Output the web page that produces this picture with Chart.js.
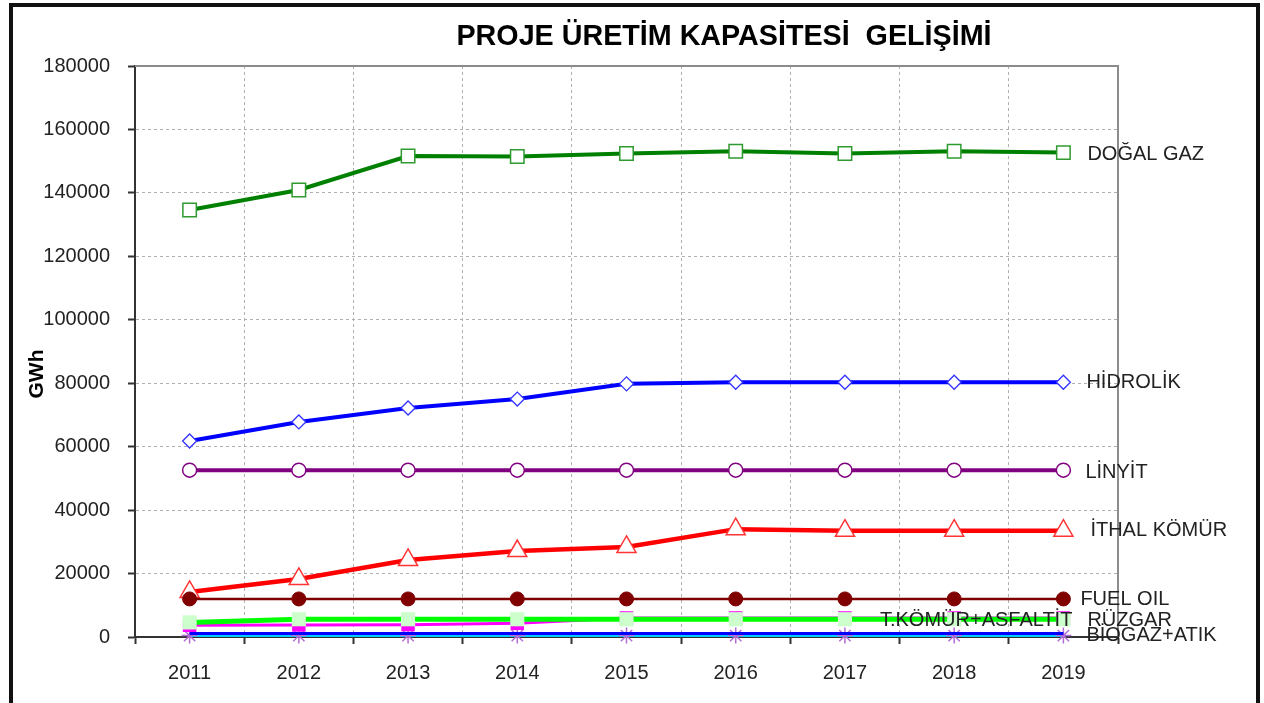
<!DOCTYPE html>
<html>
<head>
<meta charset="utf-8">
<script src="https://cdn.jsdelivr.net/npm/chart.js@4"></script>
<style>
  html, body { margin: 0; padding: 0; background: #fff; overflow: hidden; }
  #wrap { position: relative; width: 1264px; height: 703px; }
  #frame { position: absolute; left: 9px; top: 3px; width: 1243px; height: 800px; border: 4px solid #111; pointer-events: none; }
  canvas { position: absolute; left: 0; top: 0; }
</style>
</head>
<body>
<div id="wrap">
  <canvas id="c" width="1264" height="703"></canvas>
  <div id="frame"></div>
</div>
<script>
// ---- data ----
const chartTitle = 'PROJE ÜRETİM KAPASİTESİ  GELİŞİMİ';
const yAxisTitle = 'GWh';
const years = ['2011', '2012', '2013', '2014', '2015', '2016', '2017', '2018', '2019'];
const yMin = 0;
const yMax = 180000;
const yStep = 20000;

const dogalGaz    = [134600, 140900, 151600, 151500, 152400, 153100, 152400, 153100, 152700];
const hidrolik    = [61800, 67800, 72200, 75000, 79800, 80300, 80300, 80300, 80300];
const linyit      = [52600, 52600, 52600, 52600, 52600, 52600, 52600, 52600, 52600];
const ithalKomur  = [14200, 18300, 24300, 27100, 28400, 34000, 33500, 33500, 33500];
const fuelOil     = [12000, 12000, 12000, 12000, 12000, 12000, 12000, 12000, 12000];
const ruzgar      = [4600, 5600, 5600, 5600, 5600, 5600, 5600, 5600, 5600];
const tKomurAsf   = [3700, 3800, 3900, 4300, 6000, 6000, 6000, 6000, 6000];
const biogazAtik  = [1100, 1100, 1100, 1100, 1100, 1100, 1100, 1100, 1100];
const altSeri     = [450, 450, 450, 450, 450, 450, 450, 450, 450];

const FONT = "'Liberation Sans', Arial, sans-serif";

function ds(label, data, color, width, pt, lab) {
  return {
    label: label, data: data, borderColor: color, backgroundColor: color,
    borderWidth: width, tension: 0, clip: false,
    pointStyle: pt.style, pointRadius: pt.r, pointHoverRadius: pt.r,
    pointBackgroundColor: pt.fill, pointBorderColor: pt.stroke, pointBorderWidth: pt.bw,
    endLabel: lab
  };
}

const datasets = [
  ds('DOĞAL GAZ', dogalGaz, '#008000', 4, {style:'rect', r:9.5, fill:'#ffffff', stroke:'#2f9a2f', bw:1.5}, {dx:24, dy:2, align:'left'}),
  ds('HİDROLİK', hidrolik, '#0000ff', 4, {style:'rectRot', r:7, fill:'#ffffff', stroke:'#3333ff', bw:1.3}, {dx:23, dy:0, align:'left'}),
  ds('LİNYİT', linyit, '#800080', 4, {style:'circle', r:7, fill:'#ffffff', stroke:'#800080', bw:1.5}, {dx:22, dy:2, align:'left'}),
  ds('FUEL OIL', fuelOil, '#800000', 2.5, {style:'circle', r:7, fill:'#800000', stroke:'#800000', bw:1}, {dx:17, dy:1, align:'left'}),
  ds('İTHAL KÖMÜR', ithalKomur, '#ff0000', 4.5, {style:'triangle', r:11, fill:'#ffffff', stroke:'#ff3333', bw:1.5}, {dx:27, dy:0, align:'left'}),
  ds('RÜZGAR', ruzgar, '#00ff00', 5, {style:'rect', r:10, fill:'#ccffcc', stroke:'#ccffcc', bw:0}, {dx:24, dy:1.5, align:'left'}),
  ds('T.KÖMÜR+ASFALTİT', tKomurAsf, '#ff00ff', 3, {style:'rect', r:9.5, fill:'#ff00ff', stroke:'#ff00ff', bw:0}, {dx:9, dy:2.5, align:'right'}),
  ds('BİOGAZ+ATIK', biogazAtik, '#0000ff', 3, {style:'circle', r:0, fill:'#0000ff', stroke:'#0000ff', bw:0}, {dx:23, dy:2, align:'left'}),
  ds('', altSeri, '#00ccff', 3, {style:'star', r:8, fill:'#b36bd6', stroke:'#b36bd6', bw:1.5}, null)
];

const overlay = {
  id: 'overlay',
  beforeDatasetsDraw(chart) {
    const a = chart.chartArea, ctx = chart.ctx;
    ctx.save();
    ctx.strokeStyle = '#8c8c8c';
    ctx.lineWidth = 2;
    ctx.beginPath();
    ctx.moveTo(a.left, a.top);
    ctx.lineTo(a.right, a.top);
    ctx.lineTo(a.right, a.bottom);
    ctx.stroke();
    ctx.restore();
  },
  afterDatasetsDraw(chart) {
    const ctx = chart.ctx;
    ctx.save();
    ctx.font = '20px ' + FONT;
    ctx.fillStyle = '#222';
    ctx.textBaseline = 'middle';
    chart.data.datasets.forEach((d, i) => {
      if (!d.endLabel || !d.label) return;
      const meta = chart.getDatasetMeta(i);
      const last = meta.data[meta.data.length - 1];
      ctx.textAlign = d.endLabel.align;
      ctx.fillText(d.label, last.x + d.endLabel.dx, last.y + d.endLabel.dy);
    });
    ctx.restore();
  },
  afterDraw(chart) {
    const ctx = chart.ctx;
    ctx.save();
    ctx.fillStyle = '#000';
    ctx.font = 'bold 28.7px ' + FONT;
    ctx.textAlign = 'center';
    ctx.textBaseline = 'alphabetic';
    ctx.fillText(chartTitle, 724, 45);
    ctx.translate(43, 374);
    ctx.rotate(-Math.PI / 2);
    ctx.font = 'bold 21px ' + FONT;
    ctx.fillText(yAxisTitle, 0, 0);
    ctx.restore();
  }
};

new Chart(document.getElementById('c'), {
  type: 'line',
  data: { labels: years, datasets: datasets },
  options: {
    responsive: false,
    animation: false,
    devicePixelRatio: 1,
    layout: { padding: { left: 0, top: 66, right: 146, bottom: 0 } },
    plugins: { legend: { display: false }, title: { display: false }, tooltip: { enabled: false } },
    scales: {
      x: {
        offset: true,
        grid: { offset: true, color: '#b0b0b0', lineWidth: 1, tickLength: 7, tickColor: '#333', tickWidth: 2, tickBorderDash: [] },
        border: { display: true, color: '#333', width: 2, dash: [3, 3] },
        ticks: { color: '#222', font: { family: FONT, size: 20 }, padding: 17, maxRotation: 0, autoSkip: false },
        afterFit(scale) { scale.height = 66; }
      },
      y: {
        min: yMin, max: yMax,
        grid: { color: '#b0b0b0', lineWidth: 1, tickLength: 7, tickColor: '#333', tickWidth: 2, tickBorderDash: [] },
        border: { display: true, color: '#333', width: 2, dash: [3, 3] },
        ticks: { stepSize: yStep, color: '#222', font: { family: FONT, size: 20 }, padding: 18, callback: v => String(v) },
        afterFit(scale) { scale.width = 135; }
      }
    }
  },
  plugins: [overlay]
});
</script>
</body>
</html>
